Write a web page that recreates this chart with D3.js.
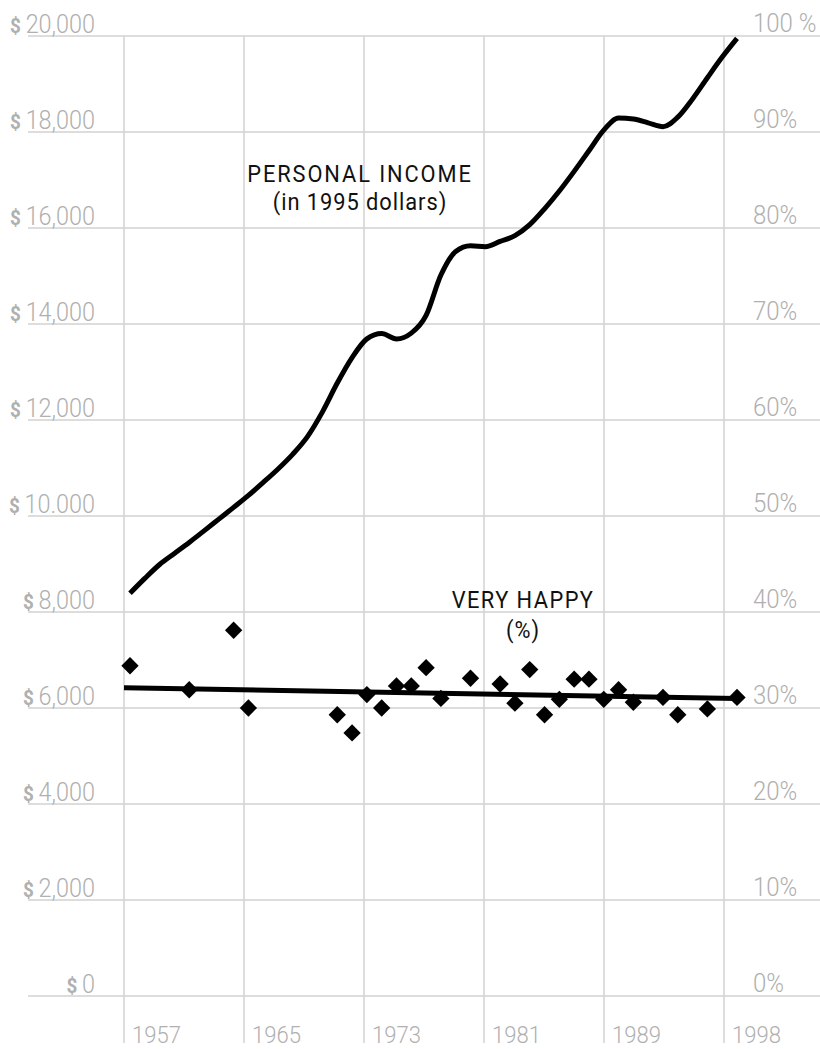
<!DOCTYPE html>
<html>
<head>
<meta charset="utf-8">
<script src="https://cdn.jsdelivr.net/npm/d3@7"></script>
<style>
  body { margin: 0; background: #fff; }
  text { font-family: Roboto, "Noto Sans", sans-serif; }
</style>
</head>
<body>
<div id="chart"></div>
<script>
const width = 820;
const height = 1049;

// x axis tick labels (drawn at equal spacing, as in the original)
const tickYears = ["1957", "1965", "1973", "1981", "1989", "1998"];

// left axis ($) and right axis (%)
const dollarTicks = [0, 2000, 4000, 6000, 8000, 10000, 12000, 14000, 16000, 18000, 20000];
const dollarLabels = ["0", "2,000", "4,000", "6,000", "8,000", "10.000", "12,000", "14,000", "16,000", "18,000", "20,000"];
const pctLabels = ["0%", "10%", "20%", "30%", "40%", "50%", "60%", "70%", "80%", "90%", "100 %"];

// personal income, 1995 dollars
const incomeYears = d3.range(1957, 1999);
const incomeValues = [8390, 8700, 8990, 9220, 9450, 9690, 9935, 10180, 10430, 10700,
  10980, 11290, 11660, 12170, 12770, 13300, 13690, 13800, 13690, 13810,
  14180, 15020, 15510, 15630, 15610, 15720, 15840, 16070, 16400, 16770,
  17180, 17610, 18040, 18290, 18270, 18190, 18110, 18310, 18690, 19130,
  19560, 19950];

// percent "very happy"
const happyYears = [1957, 1961, 1964, 1965, 1971, 1972, 1973, 1974, 1975, 1976,
  1977, 1978, 1980, 1982, 1983, 1984, 1985, 1986, 1987, 1988,
  1989, 1990, 1991, 1993, 1994, 1996, 1998];
const happyValues = [34.4, 31.9, 38.1, 30.0, 29.3, 27.4, 31.4, 30.0, 32.3, 32.3,
  34.2, 31.0, 33.1, 32.5, 30.5, 34.0, 29.3, 30.9, 33.0, 33.0,
  30.9, 31.9, 30.6, 31.1, 29.3, 29.9, 31.1];

// trend line end points
const trendYears = [1957, 1998];
const trendValues = [32.1, 31.0];

const svg = d3.select("#chart").append("svg")
    .attr("width", width)
    .attr("height", height);

const x = d3.scaleLinear().domain([1957, 1998]).range([130, 737]);
const xTick = d3.scalePoint().domain(tickYears).range([124, 724]);
const yDollar = d3.scaleLinear().domain([0, 20000]).range([996, 36]);
const yPct = d3.scaleLinear().domain([0, 100]).range([996, 36]);

const gridColor = "#d2d2d2";
const labelColor = "#b0b0b0";

// horizontal grid
svg.append("g").selectAll("line")
    .data(dollarTicks)
    .join("line")
    .attr("x1", 28)
    .attr("x2", width)
    .attr("y1", d => yDollar(d))
    .attr("y2", d => yDollar(d))
    .attr("stroke", gridColor)
    .attr("stroke-width", 1.5);

// vertical grid
svg.append("g").selectAll("line")
    .data(tickYears)
    .join("line")
    .attr("x1", d => xTick(d))
    .attr("x2", d => xTick(d))
    .attr("y1", yDollar(20000))
    .attr("y2", 1043)
    .attr("stroke", gridColor)
    .attr("stroke-width", 1.5);

// year labels
svg.append("g").selectAll("text")
    .data(tickYears)
    .join("text")
    .attr("transform", d => `translate(${xTick(d) + 8},1043) scale(0.92,1)`)
    .attr("font-size", 24)
    .attr("font-weight", 300)
    .attr("fill", labelColor)
    .text(d => d);

// left labels
const left = svg.append("g").selectAll("text")
    .data(dollarTicks)
    .join("text")
    .attr("transform", d => `translate(95,${yDollar(d) - 3}) scale(0.9,1)`)
    .attr("text-anchor", "end")
    .attr("font-size", 26)
    .attr("font-weight", 300)
    .attr("fill", labelColor);
left.append("tspan")
    .attr("font-size", 21)
    .attr("font-weight", "bold")
    .text("$ ");
left.append("tspan")
    .text((d, i) => dollarLabels[i]);

// right labels
svg.append("g").selectAll("text")
    .data(dollarTicks)
    .join("text")
    .attr("transform", (d, i) => `translate(753,${yPct(i * 10) - 4}) scale(0.96,1)`)
    .attr("font-size", 25)
    .attr("font-weight", 300)
    .attr("fill", labelColor)
    .text((d, i) => pctLabels[i]);

// income line
const incomeLine = d3.line()
    .x((d, i) => x(incomeYears[i]))
    .y(d => yDollar(d))
    .curve(d3.curveMonotoneX);

svg.append("path")
    .datum(incomeValues)
    .attr("d", incomeLine)
    .attr("fill", "none")
    .attr("stroke", "#000")
    .attr("stroke-width", 5);

// trend line
svg.append("line")
    .attr("x1", x(trendYears[0]) - 6)
    .attr("x2", x(trendYears[1]))
    .attr("y1", yPct(trendValues[0]))
    .attr("y2", yPct(trendValues[1]))
    .attr("stroke", "#000")
    .attr("stroke-width", 5);

// happy diamonds
const diamond = d3.symbol().type(d3.symbolSquare).size(150);
svg.append("g").selectAll("path")
    .data(happyValues)
    .join("path")
    .attr("d", diamond)
    .attr("transform", (d, i) => `translate(${x(happyYears[i])},${yPct(d)}) rotate(45)`)
    .attr("fill", "#000");

// series titles
function title(lines, cx, y0, gap, spacing) {
    lines.forEach((t, i) => {
        svg.append("text")
            .attr("transform", `translate(${cx},${y0 + i * gap}) scale(0.95,1)`)
            .attr("text-anchor", "middle")
            .attr("font-size", 23)
            .attr("letter-spacing", spacing[i])
            .attr("fill", "#111")
            .text(t);
    });
}
title(["PERSONAL INCOME", "(in 1995 dollars)"], 360, 182, 28, [2, 1]);
title(["VERY HAPPY", "(%)"], 523, 608, 30, [1.5, 1]);
</script>
</body>
</html>
